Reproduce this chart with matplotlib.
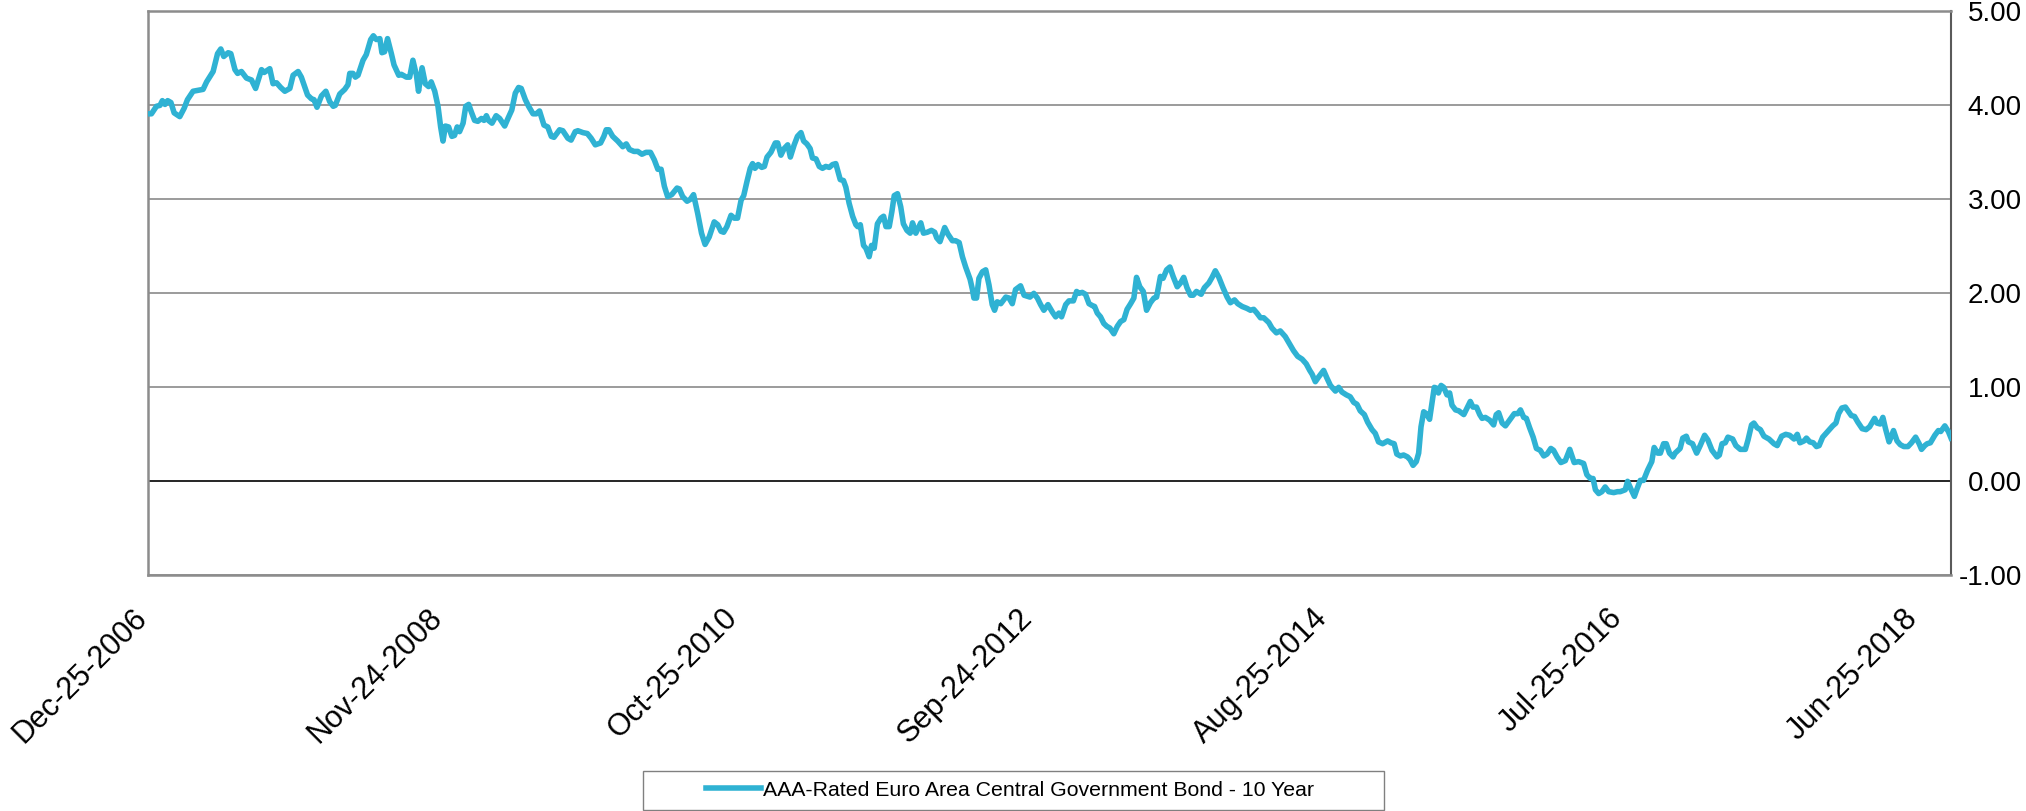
import numpy as np
import pandas as pd
import matplotlib
matplotlib.use('Agg')
import matplotlib.pyplot as plt
import matplotlib.transforms as mtransforms
from matplotlib.patches import Rectangle

plt.rcParams['font.family'] = ['Liberation Sans', 'DejaVu Sans']

# weekly series: weeks since Dec-25-2006 and yield (%)
start_date = '2006-12-25'
week_no = [
    0, 1.2, 2.9, 4.1, 4.9, 5.8, 6.7, 7.8, 8.9, 10.8,
    12.3, 13.4, 15.3, 17.0, 18.7, 19.9, 22.1, 23.6, 24.7, 25.7,
    27.2, 28.1, 29.5, 30.4, 31.7, 33.4, 35.1, 36.5, 38.5, 39.4,
    41.3, 42.4, 43.6, 45.0, 46.4, 48.1, 49.2, 50.9, 52.0, 54.1,
    55.4, 56.3, 57.3, 58.8, 60.3, 61.6, 62.8, 63.5, 65.0, 66.7,
    67.8, 68.4, 69.5, 70.3, 71.2, 72.9, 74.0, 75.5, 76.4, 77.4,
    78.6, 79.3, 80.2, 81.2, 82.5, 83.4, 85.0, 85.9, 87.6, 88.7,
    89.8, 91.0, 91.7, 92.9, 94.0, 95.1, 96.0, 97.2, 98.3, 99.2,
    100.0, 100.8, 101.9, 103.0, 103.9, 104.8, 105.6, 106.8, 107.7, 108.7,
    109.6, 110.7, 111.8, 113.0, 113.9, 114.7, 115.4, 116.6, 118.0, 119.2,
    120.9, 122.0, 123.3, 124.5, 125.6, 126.5, 127.9, 129.0, 130.5, 131.6,
    132.7, 134.2, 135.5, 136.7, 137.6, 139.5, 140.6, 142.3, 143.4, 144.8,
    145.7, 147.4, 148.9, 150.2, 151.6, 153.4, 154.5, 155.3, 156.2, 157.5,
    159.2, 160.9, 162.1, 163.2, 164.7, 166.0, 167.4, 168.8, 170.3, 171.6,
    172.8, 173.9, 175.0,
    176.1, 177.5, 179.3, 180.1, 181.2, 182.7, 183.8, 184.9, 186.3, 187.6,
    188.8, 190.2, 191.9, 193.1, 194.2, 195.1, 196.2, 197.6, 198.7, 199.8,
    201.0, 201.9, 203.0, 204.1, 204.9, 205.7, 206.8, 208.0, 208.9, 209.8,
    211.1, 212.6, 213.4, 214.5, 215.6, 216.8, 217.7, 219.0, 220.1, 221.3,
    222.2, 223.3, 224.4, 225.2, 226.4, 227.5, 228.6, 229.7, 230.9, 232.0,
    233.1, 233.9, 234.6, 235.7, 236.5, 237.6, 238.8, 239.9, 240.5, 241.4,
    242.5, 243.3, 244.4, 245.2, 246.1, 247.2, 248.4, 249.3, 250.1, 251.2,
    252.1, 252.9, 254.0, 255.1, 256.0, 257.2, 258.3, 259.1, 260.2, 261.9,
    262.8,
    264.1, 265.5, 266.6, 267.3, 268.4, 270.0, 271.1, 272.6, 273.7, 274.9,
    276.0, 277.1, 278.6, 279.4, 279.9, 280.8, 281.6, 282.8, 283.9, 285.0,
    286.1, 286.9, 287.8, 289.0, 290.7, 291.8, 292.9, 294.0, 295.7, 296.9,
    298.9, 300.2, 301.4, 302.5, 303.6, 305.0, 306.5, 307.6, 308.7, 309.6,
    311.0, 312.1, 313.6, 314.7, 315.5, 316.6, 317.7, 318.9, 320.0, 320.8,
    321.7, 322.8, 323.9, 324.9, 326.0, 327.3, 328.5, 329.6, 330.7, 331.8,
    333.0, 334.1, 335.0, 336.1, 337.3, 338.4, 339.7, 340.9, 341.8, 343.1,
    344.0, 345.2, 346.3, 347.4, 348.8, 349.9,
    351.0, 352.1, 353.3, 354.2, 355.3, 356.9, 358.0, 359.5, 360.6, 361.7,
    362.9, 364.3, 365.7, 366.8, 368.2, 369.3, 370.8, 372.4, 373.6, 374.7,
    375.8, 377.0, 378.1, 379.8, 380.9, 382.4, 383.7, 385.4, 386.9, 388.2,
    389.6, 391.1, 392.5, 393.7, 394.5, 395.6, 396.7, 398.4, 399.5, 400.7,
    402.4, 403.5, 404.6, 406.1, 407.4, 408.6, 409.7, 410.8, 412.2, 413.3,
    414.8, 415.9, 417.0, 418.4, 420.1, 421.2, 422.3, 423.2, 424.4, 425.5,
    426.8, 427.7, 428.7, 429.8, 430.6, 431.4, 432.3, 433.2, 434.3, 435.1,
    435.9, 436.8, 437.3, 438.2,
    439.1, 440.2, 441.1, 441.9, 443.1, 444.2, 445.9, 447.0, 448.1, 449.0,
    450.2, 451.3, 452.1, 453.2, 454.7, 456.0, 456.9, 457.7, 458.9, 460.0,
    461.4, 463.0, 464.2, 465.1, 466.2, 467.1, 468.2, 469.4, 470.5, 471.8,
    473.0, 474.1, 475.4, 476.3, 477.5, 478.8, 480.3, 481.8, 483.3, 484.8,
    486.5, 487.6, 488.8, 489.7, 490.5, 491.6, 492.7, 493.8, 495.0, 496.7,
    498.0, 498.9, 500.6, 501.4, 502.5, 503.7, 504.6, 505.7, 506.8, 508.2,
    509.6, 510.4, 511.6, 512.5, 513.6, 514.5, 515.6, 516.8, 517.5, 519.2,
    520.1, 521.3,
    522.0, 523.4, 524.8, 526.0, 527.5, 528.6, 530.0, 531.7, 532.5, 533.4,
    534.5, 535.4, 537.0, 538.1, 539.6, 541.3, 542.2, 543.4, 544.2, 545.3,
    546.4, 547.6, 549.3, 551.0, 552.1, 553.6, 555.0, 556.3, 557.8, 558.9,
    559.8, 561.2, 562.0, 563.1, 564.3, 565.4, 566.3, 567.5, 569.2, 570.9,
    572.0, 572.9, 574.0, 575.2, 576.3, 577.2, 578.3, 579.4, 580.9, 582.2,
    583.4, 585.1, 585.9, 587.0, 587.9, 588.8, 590.0, 590.8, 591.5, 592.7,
    593.8, 595.0, 596.4, 597.6, 599.0, 600.2, 601.0, 602.1, 602.9, 604.0,
    605.5, 606.7, 607.5, 608.9, 610.1, 611.0,
]
yield_pct = [
    3.91, 3.91, 3.99, 4.00, 4.05, 4.01, 4.05, 4.03, 3.92, 3.88,
    3.97, 4.06, 4.15, 4.16, 4.17, 4.25, 4.36, 4.55, 4.60, 4.52,
    4.56, 4.55, 4.38, 4.34, 4.36, 4.29, 4.27, 4.18, 4.38, 4.35,
    4.39, 4.23, 4.24, 4.19, 4.15, 4.18, 4.32, 4.36, 4.30, 4.11,
    4.07, 4.06, 3.98, 4.10, 4.15, 4.04, 3.99, 4.00, 4.12, 4.17,
    4.22, 4.34, 4.34, 4.30, 4.32, 4.48, 4.54, 4.70, 4.74, 4.70,
    4.71, 4.56, 4.57, 4.71, 4.55, 4.43, 4.32, 4.33, 4.30, 4.30,
    4.48, 4.32, 4.15, 4.40, 4.23, 4.20, 4.25, 4.15, 3.99, 3.77,
    3.62, 3.78, 3.77, 3.67, 3.68, 3.77, 3.72, 3.81, 3.99, 4.01,
    3.93, 3.84, 3.83, 3.86, 3.84, 3.89, 3.84, 3.81, 3.89, 3.86,
    3.78, 3.86, 3.95, 4.13, 4.19, 4.18, 4.06, 3.99, 3.91, 3.91,
    3.94, 3.79, 3.77, 3.67, 3.66, 3.74, 3.73, 3.65, 3.63, 3.72,
    3.73, 3.71, 3.70, 3.65, 3.58, 3.60, 3.67, 3.74, 3.74, 3.67,
    3.62, 3.56, 3.59, 3.53, 3.51, 3.51, 3.48, 3.50, 3.50, 3.42,
    3.32, 3.32, 3.14,
    3.03, 3.05, 3.12, 3.11, 3.03, 2.98, 3.00, 3.05, 2.85, 2.64,
    2.52, 2.60, 2.76, 2.73, 2.66, 2.65, 2.71, 2.83, 2.80, 2.80,
    2.99, 3.04, 3.19, 3.33, 3.38, 3.33, 3.37, 3.34, 3.35, 3.45,
    3.50, 3.60, 3.60, 3.47, 3.54, 3.58, 3.45, 3.58, 3.67, 3.71,
    3.62, 3.59, 3.54, 3.44, 3.43, 3.35, 3.33, 3.35, 3.34, 3.37,
    3.38, 3.29, 3.21, 3.20, 3.13, 2.96, 2.82, 2.73, 2.71, 2.73,
    2.51, 2.48, 2.39, 2.51, 2.48, 2.74, 2.80, 2.82, 2.71, 2.71,
    2.87, 3.04, 3.06, 2.92, 2.74, 2.67, 2.64, 2.75, 2.64, 2.75,
    2.64,
    2.65, 2.67, 2.65, 2.59, 2.55, 2.70, 2.63, 2.56, 2.56, 2.54,
    2.39, 2.28, 2.15, 2.04, 1.95, 1.95, 2.16, 2.23, 2.25, 2.09,
    1.88, 1.82, 1.91, 1.89, 1.96, 1.95, 1.89, 2.04, 2.08, 1.98,
    1.96, 2.00, 1.95, 1.88, 1.82, 1.88, 1.80, 1.75, 1.79, 1.75,
    1.88, 1.92, 1.92, 2.02, 2.00, 2.01, 1.99, 1.89, 1.87, 1.86,
    1.79, 1.75, 1.68, 1.65, 1.63, 1.57, 1.65, 1.70, 1.72, 1.83,
    1.89, 1.95, 2.17, 2.07, 2.02, 1.82, 1.90, 1.95, 1.96, 2.18,
    2.16, 2.25, 2.28, 2.18, 2.07, 2.11,
    2.17, 2.06, 1.98, 1.98, 2.02, 1.99, 2.06, 2.11, 2.17, 2.24,
    2.17, 2.06, 1.96, 1.90, 1.93, 1.89, 1.86, 1.84, 1.82, 1.83,
    1.79, 1.74, 1.74, 1.69, 1.63, 1.58, 1.60, 1.54, 1.46, 1.39,
    1.33, 1.30, 1.25, 1.18, 1.14, 1.06, 1.11, 1.18, 1.10, 1.02,
    0.96, 1.00, 0.95, 0.92, 0.90, 0.84, 0.82, 0.75, 0.71, 0.63,
    0.55, 0.51, 0.42, 0.40, 0.43, 0.41, 0.40, 0.29, 0.27, 0.28,
    0.26, 0.23, 0.17, 0.21, 0.30, 0.58, 0.74, 0.72, 0.66, 0.83,
    1.00, 0.99, 0.94, 1.02,
    1.00, 0.92, 0.94, 0.81, 0.76, 0.75, 0.71, 0.78, 0.85, 0.79,
    0.79, 0.71, 0.67, 0.68, 0.65, 0.60, 0.71, 0.73, 0.62, 0.59,
    0.65, 0.72, 0.72, 0.76, 0.68, 0.67, 0.57, 0.47, 0.35, 0.33,
    0.27, 0.29, 0.35, 0.33, 0.26, 0.20, 0.22, 0.34, 0.20, 0.21,
    0.19, 0.07, 0.03, 0.03, -0.09, -0.13, -0.11, -0.06, -0.11, -0.12,
    -0.11, -0.11, -0.09, 0.00, -0.08, -0.16, -0.08, 0.01, 0.01, 0.12,
    0.21, 0.36, 0.30, 0.30, 0.40, 0.40, 0.30, 0.26, 0.30, 0.35,
    0.46, 0.48,
    0.42, 0.40, 0.30, 0.38, 0.49, 0.44, 0.33, 0.26, 0.28, 0.40,
    0.41, 0.47, 0.45, 0.38, 0.34, 0.34, 0.44, 0.60, 0.62, 0.57,
    0.55, 0.48, 0.45, 0.40, 0.38, 0.48, 0.50, 0.49, 0.45, 0.50,
    0.41, 0.43, 0.46, 0.42, 0.41, 0.37, 0.38, 0.47, 0.53, 0.59,
    0.62, 0.72, 0.78, 0.79, 0.74, 0.70, 0.69, 0.63, 0.56, 0.55,
    0.58, 0.67, 0.62, 0.61, 0.68, 0.56, 0.42, 0.48, 0.54, 0.43,
    0.39, 0.37, 0.37, 0.41, 0.47, 0.40, 0.34, 0.38, 0.40, 0.41,
    0.49, 0.54, 0.53, 0.59, 0.53, 0.46,
]

tick_labels = ['Dec-25-2006', 'Nov-24-2008', 'Oct-25-2010', 'Sep-24-2012',
               'Aug-25-2014', 'Jul-25-2016', 'Jun-25-2018']
y_ticks = [-1, 0, 1, 2, 3, 4, 5]
series_name = 'AAA-Rated Euro Area Central Government Bond - 10 Year'

dates = pd.Timestamp(start_date) + pd.to_timedelta(np.array(week_no) * 7, unit='D')
tick_dates = pd.to_datetime(tick_labels, format='%b-%d-%Y')

fig = plt.figure(figsize=(20.26, 8.11), dpi=100)
ax = fig.add_axes([0.073, 0.2906, 0.890, 0.6954])

line, = ax.plot(dates, yield_pct, color='#2fb2d3', lw=4.0, solid_joinstyle='round', zorder=3)

ax.set_ylim(-1, 5)
ax.set_xlim(dates[0], dates[-1])
ax.set_yticks(y_ticks)
ax.set_yticklabels(['%.2f' % v for v in y_ticks])
ax.yaxis.tick_right()
ax.grid(axis='y', color='#808080', lw=1.1, zorder=1)
ax.axhline(0, color='#1e1e1e', lw=1.3, zorder=2)
ax.set_axisbelow(True)

ax.set_xticks(tick_dates)
ax.set_xticklabels(tick_labels, rotation=45, ha='right', fontsize=22)
ax.tick_params(axis='x', length=0, pad=20)
# y labels right-aligned near the figure edge
ax.tick_params(axis='y', length=0, pad=51, labelsize=20)
for lbl in ax.get_yticklabels():
    lbl.set_horizontalalignment('right')

shift = mtransforms.ScaledTranslation(5 / 100, 0, fig.dpi_scale_trans)
for lbl in ax.get_xticklabels():
    lbl.set_transform(lbl.get_transform() + shift)

for side in ['left', 'top', 'bottom']:
    ax.spines[side].set_color('#8c8c8c')
    ax.spines[side].set_linewidth(1.8)
ax.spines['right'].set_color('#5a5a5a')
ax.spines['right'].set_linewidth(1.5)

# legend box at the bottom
fig.patches.append(Rectangle((0.3174, 0.0015), 0.3657, 0.0481, transform=fig.transFigure,
                             facecolor='white', edgecolor='#808080', lw=1.0))
fig.legend([line], [series_name], loc='center', bbox_to_anchor=(0.4985, 0.0255),
           frameon=False, handlelength=2.6, handletextpad=0.1,
           prop={'family': 'Liberation Sans', 'size': 15.3})

fig.savefig('out.png', dpi=100, facecolor='white')
